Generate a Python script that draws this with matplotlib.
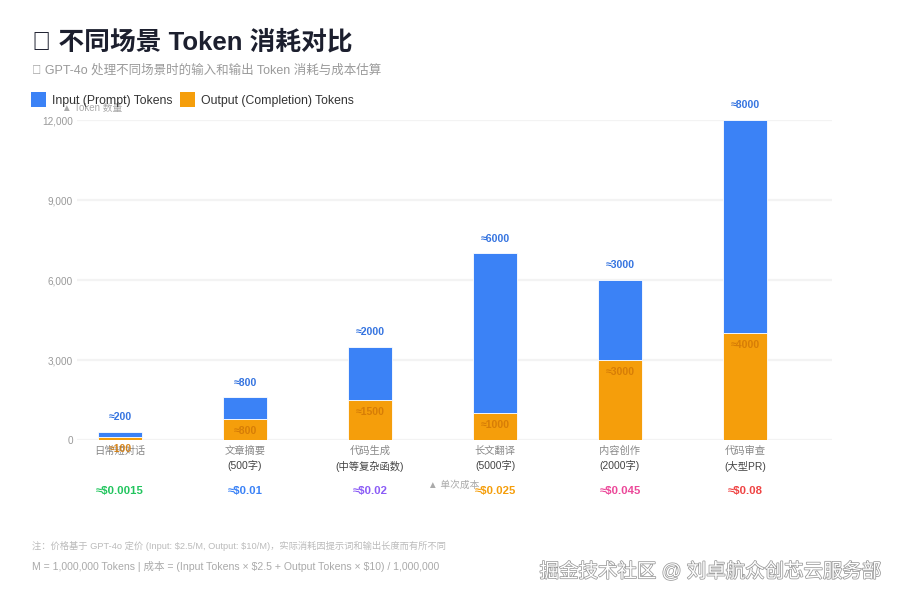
import numpy as np
import matplotlib
matplotlib.use("Agg")
import matplotlib.pyplot as plt
import matplotlib.patheffects as pe
from matplotlib.patches import Rectangle

plt.rcParams["font.family"] = ["Liberation Sans", "Noto Sans CJK SC", "DejaVu Sans"]

# Dane
scenarios = ["日常短对话", "文章摘要", "代码生成", "长文翻译", "内容创作", "代码审查"]
scenario_notes = ["", "(500字)", "(中等复杂函数)", "(5000字)", "(2000字)", "(大型PR)"]
input_tokens = [200, 800, 2000, 6000, 3000, 8000]
output_tokens = [100, 800, 1500, 1000, 3000, 4000]
cost_labels = ["≈$0.0015", "≈$0.01", "≈$0.02", "≈$0.025", "≈$0.045", "≈$0.08"]
cost_colors = ["#22c55e", "#3b82f6", "#8b5cf6", "#f59e0b", "#ec4899", "#ef4444"]
series_names = ["Input (Prompt) Tokens", "Output (Completion) Tokens"]
yticks = [0, 3000, 6000, 9000, 12000]

c_in = "#3b82f6"
c_out = "#f59e0b"

W, H = 900, 600
fig = plt.figure(figsize=(9, 6), dpi=100)
fig.patch.set_facecolor("white")

# obszar wykresu w pikselach: x 77..832, y 120..440 (od góry)
ax = fig.add_axes([77 / W, 1 - 440 / H, 755 / W, 320 / H])
x = np.arange(len(scenarios))
ax.set_xlim(-0.344, 5.696)
ax.set_ylim(0, 12000)

for y in yticks:
    ax.axhline(y, color="#f3f3f3", lw=1.6, zorder=0)

ax.bar(x, output_tokens, width=0.35, color=c_out, zorder=2, edgecolor="white", linewidth=0.6)
ax.bar(x, input_tokens, width=0.35, bottom=output_tokens, color=c_in, zorder=2,
       edgecolor="white", linewidth=0.6)

totals = np.array(input_tokens) + np.array(output_tokens)
for i in range(len(scenarios)):
    ax.annotate(f"≈{input_tokens[i]}", (x[i], totals[i]), xytext=(0, 7), textcoords="offset points",
                ha="center", va="bottom", fontsize=7.6, fontweight="bold", color="#3574e0",
                zorder=5, annotation_clip=False)
    ax.annotate(f"≈{output_tokens[i]}", (x[i], output_tokens[i]), xytext=(0, -8.6),
                textcoords="offset points", ha="center", va="center", fontsize=7.6,
                fontweight="bold", color="#d47a06", alpha=0.9, zorder=5, annotation_clip=False)
    # podpisy kategorii
    ax.annotate(scenarios[i], (x[i], 149), xycoords=("data", "figure pixels"), ha="center",
                va="center", fontsize=7.4, color="#888888", annotation_clip=False)
    if scenario_notes[i]:
        ax.annotate(scenario_notes[i], (x[i], 134), xycoords=("data", "figure pixels"),
                    ha="center", va="center", fontsize=7.4, color="#444444", annotation_clip=False)
    ax.annotate(cost_labels[i], (x[i], 109), xycoords=("data", "figure pixels"), ha="center",
                va="center", fontsize=8.2, fontweight="bold", color=cost_colors[i],
                annotation_clip=False)

ax.set_yticks(yticks)
ax.set_yticklabels([f"{v:,}" for v in yticks])
ax.tick_params(axis="y", length=0, pad=3, labelsize=7.2, labelcolor="#999999")
ax.set_xticks([])
for s in ax.spines.values():
    s.set_visible(False)

# nazwy osi
fig.text(62 / W, 1 - 108 / H, "▲ Token 数量", fontsize=7, color="#aaaaaa", va="center", ha="left")
fig.text(454 / W, 1 - 485 / H, "▲ 单次成本", fontsize=7, color="#aaaaaa", va="center", ha="center")

# tytuł i podtytuł
fig.text(32 / W, 1 - 42 / H, "📊 不同场景 Token 消耗对比", fontsize=18.5, fontweight="bold",
         color="#1c1f2e", va="center", ha="left")
fig.text(32 / W, 1 - 70 / H, "💡 GPT-4o 处理不同场景时的输入和输出 Token 消耗与成本估算",
         fontsize=9, color="#9a9a9a", va="center", ha="left")

# legenda
for lx, col, name in [(31, c_in, series_names[0]), (180, c_out, series_names[1])]:
    fig.add_artist(Rectangle((lx / W, 1 - 107 / H), 15 / W, 15 / H, transform=fig.transFigure,
                             color=col, lw=0))
    fig.text((lx + 21) / W, 1 - 101 / H, name, fontsize=8.8, color="#333333", va="center", ha="left")

# stopka
fig.text(32 / W, 1 - 546 / H,
         "注：价格基于 GPT-4o 定价 (Input: \\$2.5/M, Output: \\$10/M)，实际消耗因提示词和输出长度而有所不同",
         fontsize=6.7, color="#bbbbbb", va="center", ha="left")
fig.text(32 / W, 1 - 566 / H,
         "M = 1,000,000 Tokens | 成本 = (Input Tokens × \\$2.5 + Output Tokens × \\$10) / 1,000,000",
         fontsize=7.6, color="#aaaaaa", va="center", ha="left")

# znak wodny
fig.text(882 / W, 1 - 572 / H, "掘金技术社区 @ 刘卓航众创芯云服务部", fontsize=14, color="white",
         va="center", ha="right",
         path_effects=[pe.withStroke(linewidth=1.1, foreground="#999999")])

plt.savefig("out.png", dpi=100)
